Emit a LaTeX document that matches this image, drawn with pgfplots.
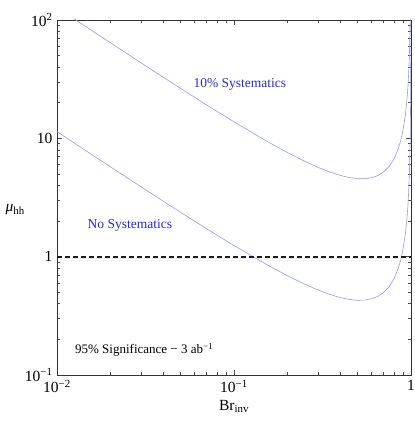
\documentclass[border=0pt]{standalone}
\usepackage{pgfplots}
\pgfplotsset{compat=1.18}
\usepackage{fontspec}
\setmainfont{Liberation Serif}
\definecolor{curve}{RGB}{150,150,255}
\definecolor{lab}{RGB}{40,40,230}
\begin{document}
\begin{tikzpicture}
\useasboundingbox (-57pt,-46pt) rectangle (358pt,375pt);
\begin{axis}[at={(0,0)}, anchor=south west, scale only axis,
  width=354pt, height=355pt,
  xmode=log, ymode=log, xmin=0.01, xmax=1, ymin=0.1, ymax=100,
  xtick={0.01,0.1,1}, xticklabels={10\textsuperscript{−2},10\textsuperscript{−1},1},
  ytick={0.1,1,10,100}, yticklabels={10\textsuperscript{−1},1,10,10\textsuperscript{2}},
  minor xtick={0.02,0.03,0.04,0.05,0.06,0.07,0.08,0.09,0.2,0.3,0.4,0.5,0.6,0.7,0.8,0.9},
  minor ytick={0.2,0.3,0.4,0.5,0.6,0.7,0.8,0.9,2,3,4,5,6,7,8,9,20,30,40,50,60,70,80,90},
  tick align=inside, major tick length=5pt, minor tick length=3pt,
  every tick/.style={black!70, line width=0.6pt},
  axis line style={black!80, line width=0.6pt},
  tick label style={font=\fontsize{15.5}{17}\selectfont},
  xticklabel style={yshift=-2pt},
  yticklabel style={xshift=-1pt},
  xlabel={Br\textsubscript{inv}}, ylabel={\textit{μ}\textsubscript{hh}},
  label style={font=\fontsize{15.5}{17}\selectfont},
  xlabel style={at={(axis description cs:0.5,-0.088)}, anchor=center},
  ylabel style={at={(axis description cs:-0.118,0.465)}, anchor=center, rotate=-90},
  clip=true]
\addplot[curve, line width=0.6pt] coordinates {
(0.01,127.5) (0.015,85.36) (0.02,64.29) (0.03,43.21) (0.05,26.37) (0.07,19.16)
(0.1,13.78) (0.15,9.627) (0.2,7.594) (0.25,6.413) (0.3,5.667) (0.35,5.176)
(0.4,4.854) (0.45,4.657) (0.5,4.56) (0.55,4.556) (0.6,4.646) (0.65,4.846)
(0.7,5.190) (0.75,5.747) (0.8,6.656) (0.85,8.255) (0.875,9.566) (0.9,11.56)
(0.93,15.86) (0.95,21.63) (0.96,26.69) (0.97,35.14) (0.98,52.04) (0.99,102.8)};
\addplot[curve, line width=0.6pt] coordinates {
(0.01,11.40) (0.015,7.636) (0.02,5.753) (0.03,3.871) (0.05,2.366) (0.07,1.723)
(0.1,1.242) (0.15,0.8722) (0.2,0.6913) (0.25,0.5867) (0.3,0.5210) (0.35,0.4782)
(0.4,0.4508) (0.45,0.4347) (0.5,0.428) (0.55,0.4299) (0.6,0.4408) (0.65,0.4624)
(0.7,0.4981) (0.75,0.5547) (0.8,0.6463) (0.85,0.8063) (0.875,0.9371) (0.9,1.1356)
(0.93,1.5644) (0.95,2.139) (0.96,2.643) (0.97,3.483) (0.98,5.165) (0.99,10.21)
(0.995,20.31) (0.998,50.61) (0.999,101.1)};
\addplot[black!90, line width=1.8pt, dash pattern=on 5.5pt off 2.5pt] coordinates {(0.01,1) (1,1)};
\node[lab, font=\fontsize{13.5}{15}\selectfont] at (axis cs:0.108,28.8) {10\% Systematics};
\node[lab, font=\fontsize{13.5}{15}\selectfont] at (axis cs:0.0258,1.82) {No Systematics};
\node[black, font=\fontsize{13}{15}\selectfont, anchor=west] at (axis cs:0.0121,0.1625) {95\% Significance − 3 ab\textsuperscript{−1}};
\end{axis}
\end{tikzpicture}
\end{document}
